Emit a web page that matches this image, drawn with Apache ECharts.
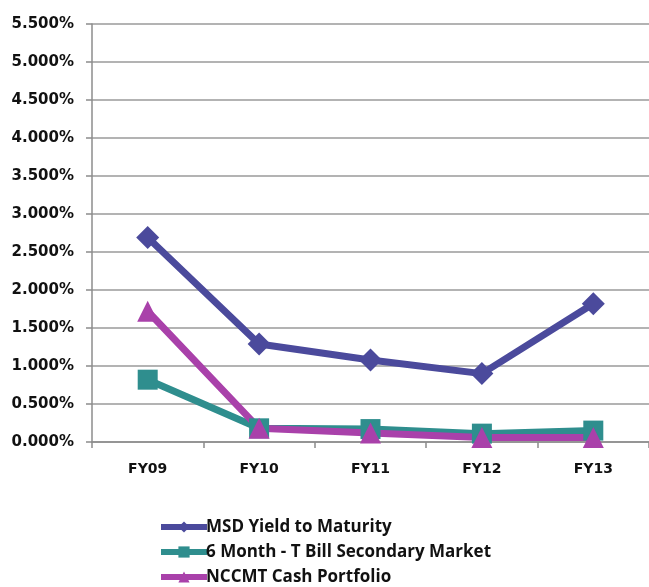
<!DOCTYPE html>
<html><head><meta charset="utf-8">
<script src="https://cdn.jsdelivr.net/npm/echarts@6/dist/echarts.min.js"></script>
<style>html,body{margin:0;padding:0;background:#fff}#c{width:649px;height:587px}</style>
</head><body><div id="c"></div>
<script>
const categories = ['FY09','FY10','FY11','FY12','FY13'];
const msdYield = [2.69, 1.29, 1.08, 0.90, 1.82];
const tBill6M = [0.82, 0.18, 0.17, 0.11, 0.15];
const nccmtCash = [1.72, 0.18, 0.12, 0.06, 0.06];
const yTicks = [0, 0.5, 1, 1.5, 2, 2.5, 3, 3.5, 4, 4.5, 5, 5.5];
const seriesNames = ['MSD Yield to Maturity','6 Month - T Bill Secondary Market','NCCMT Cash Portfolio'];

const colors = ['#4b4a9c','#2f8e8e','#a941aa'];
const axisFont = '"DejaVu Sans", sans-serif';
const legendFont = '"Open Sans", "Liberation Sans", sans-serif';
const chart = echarts.init(document.getElementById('c'), null, {renderer:'canvas'});
function mk(name, data, color, symbol, size){
  return {name, type:'line', data, symbol, symbolSize:size,
    lineStyle:{width:7,color}, itemStyle:{color},
    emphasis:{disabled:true}, animation:false, z: 2};
}
chart.setOption({
  animation:false,
  color: colors,
  grid:{left:92, top:24, width:560, height:418, containLabel:false},
  xAxis:{type:'category', data:categories, boundaryGap:true,
    axisLine:{lineStyle:{color:'#8c8c8c',width:1.5}},
    axisTick:{show:true, length:6, lineStyle:{color:'#8c8c8c',width:1.5}},
    axisLabel:{color:'#111', fontWeight:'bold', fontSize:14, fontFamily:axisFont, margin:20},
    splitLine:{show:false}},
  yAxis:{type:'value', min:yTicks[0], max:yTicks[yTicks.length-1], interval:0.5,
    axisLine:{show:true, lineStyle:{color:'#8c8c8c',width:1.5}},
    axisTick:{show:true, length:6, lineStyle:{color:'#8c8c8c',width:1.5}},
    axisLabel:{color:'#111', fontWeight:'bold', fontSize:15, fontFamily:axisFont, margin:18,
      formatter: v => v.toFixed(3) + '%'},
    splitLine:{show:true, lineStyle:{color:'#9a9a9a', width:1.5}}},
  legend:{orient:'vertical', left:158, top:517, padding:0, itemGap:5, itemWidth:46, itemHeight:14,
    lineStyle:{width:6},
    textStyle:{color:'#111', fontWeight:'bold', fontSize:17, lineHeight:20, fontFamily:legendFont, padding:[0,0,0,-6]},
    data: seriesNames},
  series:[
    mk(seriesNames[0], msdYield, colors[0], 'diamond', 23),
    mk(seriesNames[1], tBill6M, colors[1], 'rect', 20),
    mk(seriesNames[2], nccmtCash, colors[2], 'triangle', 21)
  ]
});
</script></body></html>
